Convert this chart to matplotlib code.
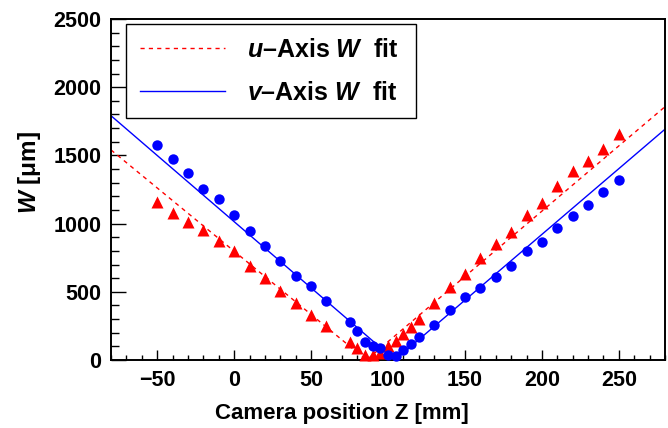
import numpy as np
import matplotlib.pyplot as plt
from matplotlib.ticker import MultipleLocator

plt.rcParams['font.family'] = ['Liberation Sans', 'DejaVu Sans']
plt.rcParams['mathtext.fontset'] = 'custom'
plt.rcParams['mathtext.it'] = 'Liberation Sans:italic:bold'
plt.rcParams['mathtext.rm'] = 'Liberation Sans:bold'
plt.rcParams['mathtext.bf'] = 'Liberation Sans:bold'

# measured widths (camera position in mm, W in um)
z = [-50, -40, -30, -20, -10, 0, 10, 20, 30, 40, 50, 60,
     75, 80, 85, 90, 95, 100, 105, 110, 115, 120,
     130, 140, 150, 160, 170, 180, 190, 200, 210, 220, 230, 240, 250]

u_w = [1161, 1075, 1009, 953, 870, 801, 689, 599, 508, 420, 330, 252,
       133, 86, 37, 33, 51, 100, 139, 190, 244, 301,
       415, 538, 628, 745, 850, 941, 1061, 1153, 1273, 1386, 1457, 1545, 1655]

v_w = [1576, 1474, 1369, 1251, 1183, 1061, 946, 833, 723, 618, 543, 433,
       280, 215, 133, 100, 88, 37, 32, 73, 115, 166,
       259, 369, 459, 530, 606, 692, 797, 868, 965, 1058, 1136, 1229, 1320]

# V-shaped fit lines (end points and vertex)
u_fit_z = [-80, 86, 280]
u_fit_w = [1540, 0, 1857]
v_fit_z = [-80, 104.5, 280]
v_fit_w = [1791, 0, 1692]

fig = plt.figure(figsize=(6.68, 4.28), dpi=100)
ax = fig.add_axes([111/668, 1 - 360/428, 554/668, 341/428])

ax.plot(z, u_w, '^', color='#ff0000', ms=8, mec='none', clip_on=False, zorder=3)
ax.plot(z, v_w, 'o', color='#0000ff', ms=7.5, mec='none', clip_on=False, zorder=3)
ax.plot(u_fit_z, u_fit_w, '--', color='#ff0000', lw=1.0, dashes=(3, 3),
        label='$u$\u2013Axis $W$  fit')
ax.plot(v_fit_z, v_fit_w, '-', color='#0000ff', lw=1.0,
        label='$v$\u2013Axis $W$  fit')

ax.set_xlim(-80, 280)
ax.set_ylim(0, 2500)
ax.xaxis.set_major_locator(MultipleLocator(50))
ax.xaxis.set_minor_locator(MultipleLocator(10))
ax.yaxis.set_major_locator(MultipleLocator(500))
ax.yaxis.set_minor_locator(MultipleLocator(100))

ax.tick_params(which='both', direction='in', top=False, right=False, width=1.0)
ax.tick_params(axis='y', which='major', length=11, pad=7)
ax.tick_params(axis='y', which='minor', length=5.5)
ax.tick_params(axis='x', which='major', length=7, pad=7)
ax.tick_params(axis='x', which='minor', length=3.5)
for lab in ax.get_xticklabels() + ax.get_yticklabels():
    lab.set_fontsize(15.5)
    lab.set_fontweight('bold')
for s in ax.spines.values():
    s.set_linewidth(1.4)

ax.set_xlabel('Camera position Z [mm]', fontsize=16, fontweight='bold')
ax.xaxis.set_label_coords(0.4164, -0.125)
ax.set_ylabel('$W$ [\u03bcm]', fontsize=17.5, fontweight='bold')
ax.yaxis.set_label_coords(-0.122, 0.551)

leg = ax.legend(loc='upper left', bbox_to_anchor=(0.027, 0.701, 0.5235, 0.284),
                mode='expand', fancybox=False, framealpha=1, edgecolor='black',
                prop={'size': 18, 'weight': 'bold'}, handlelength=3.4,
                handletextpad=0.9, labelspacing=0.75, borderpad=0.55,
                borderaxespad=0)
leg.get_frame().set_linewidth(1.0)

fig.savefig('out.png', dpi=100)
